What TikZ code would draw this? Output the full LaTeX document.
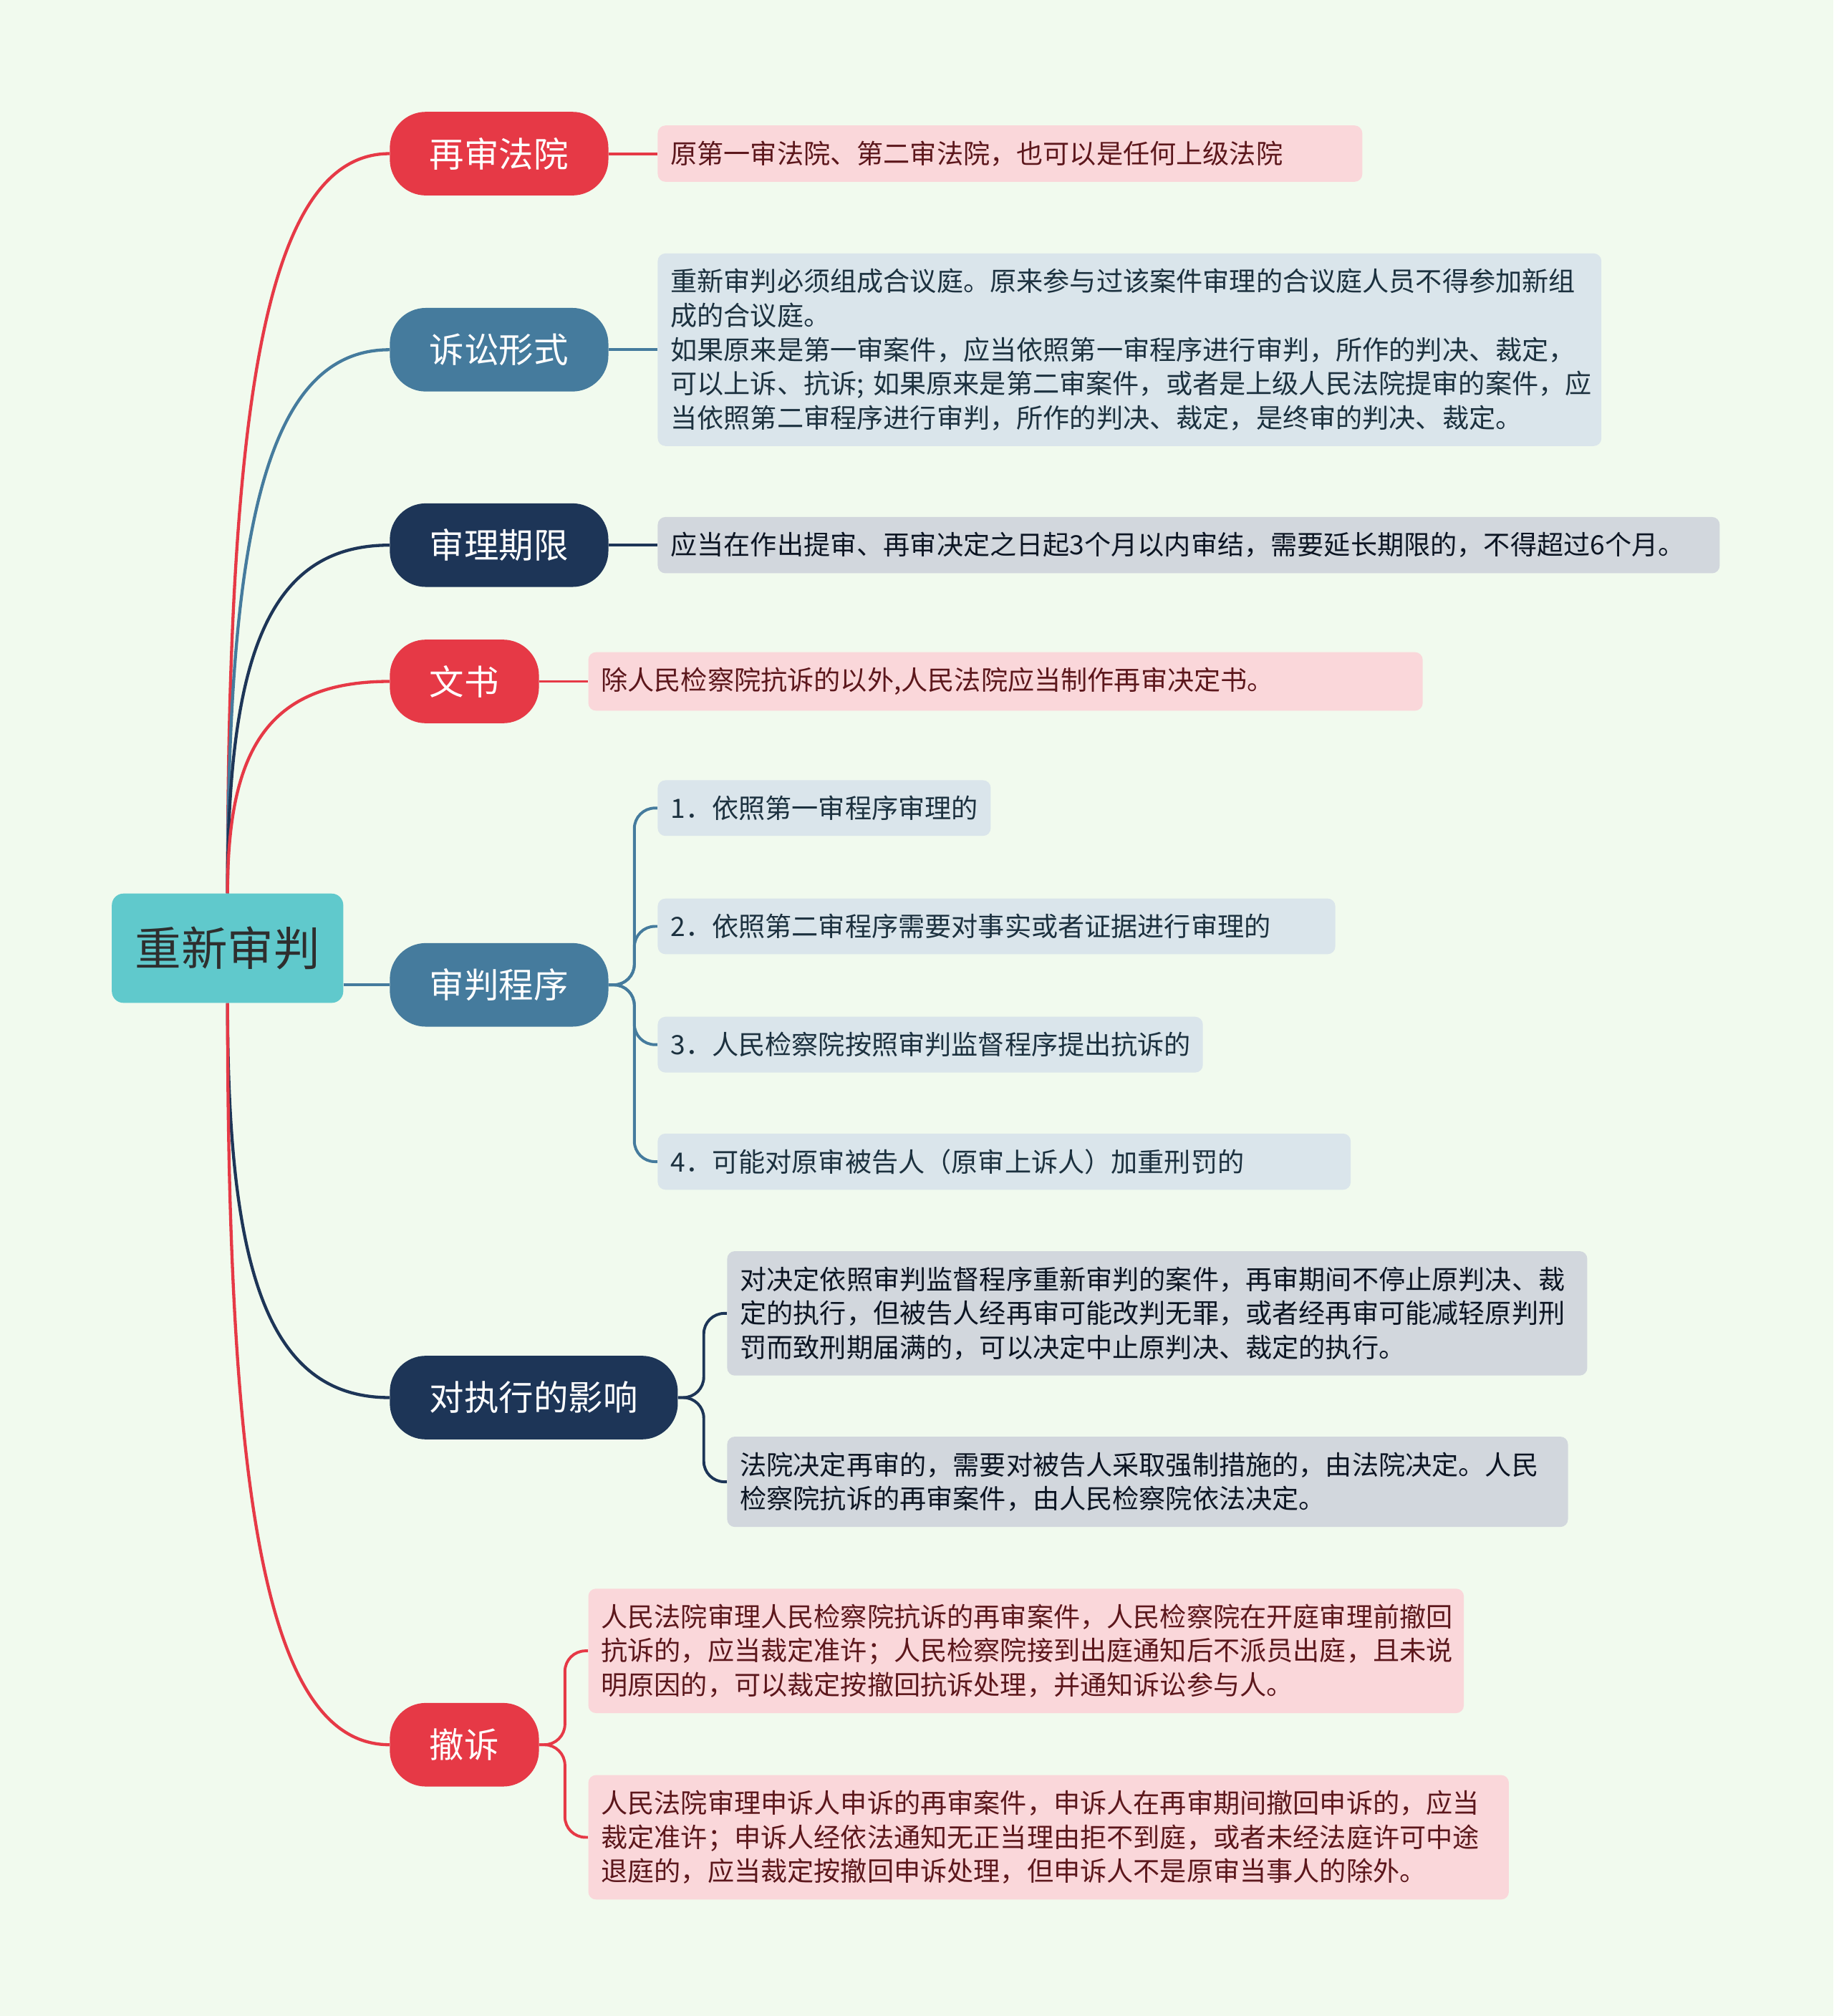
\documentclass[tikz,border=0pt]{standalone}
\usepackage{fontspec}
\setmainfont{Noto Sans CJK SC}
\usetikzlibrary{positioning,calc,backgrounds}
\definecolor{cred}{HTML}{E63946}
\definecolor{cblue}{HTML}{457B9D}
\definecolor{cnavy}{HTML}{1D3557}
\definecolor{cteal}{HTML}{60C9CC}
\definecolor{cpaper}{HTML}{F1FAEE}

\begin{document}
\begin{tikzpicture}[
    x=1pt, y=-1pt,
    hub/.style={fill=cteal, rounded corners=9pt, minimum height=85pt, inner xsep=18pt,
                text=black!82, font=\fontsize{36}{40}\selectfont},
    topic/.style={fill=#1, rounded corners=28pt, minimum height=65pt, inner xsep=31pt,
                  text=white, font=\fontsize{27}{30}\selectfont},
    note/.style={fill=#1!20, rounded corners=6pt, inner xsep=10pt, inner ysep=12pt,
                 align=left, text=#1!40!black, font=\fontsize{20.7}{26.5}\selectfont},
    link/.style={line width=2.4pt, color=#1,
                 to path={.. controls ($(\tikztostart)!0.68!(\tikztostart |- \tikztotarget)$)
                          and ($(\tikztostart |- \tikztotarget)!0.25!(\tikztotarget)$) .. (\tikztotarget)}},
    twig/.style={line width=2.2pt, color=#1, rounded corners=16pt}
]
\useasboundingbox (0,0) rectangle (1426,1568);

%% Central topic
\node[hub] (rejudge) at (177,737.5) {重新审判};

%% Main topics
\node[topic=cred, anchor=west] (court) at (303,119.5) {再审法院};
\node[topic=cblue, anchor=west] (form) at (303,272) {诉讼形式};
\node[topic=cnavy, anchor=west] (term) at (303,424) {审理期限};
\node[topic=cred, anchor=west] (doc) at (303,530) {文书};
\node[topic=cblue, anchor=west] (proc) at (303,766) {审判程序};
\node[topic=cnavy, anchor=west] (exec) at (303,1087) {对执行的影响};
\node[topic=cred, anchor=west] (withdraw) at (303,1357) {撤诉};

%% Notes
\node[note=cred, text width=528pt, right=38pt of court] (court_note) {原第一审法院、第二审法院，也可以是任何上级法院};
\node[note=cblue, text width=714pt, right=38pt of form] (form_note) {重新审判必须组成合议庭。原来参与过该案件审理的合议庭人员不得参加新组\\成的合议庭。\\如果原来是第一审案件，应当依照第一审程序进行审判，所作的判决、裁定，\\可以上诉、抗诉;~如果原来是第二审案件，或者是上级人民法院提审的案件，应\\当依照第二审程序进行审判，所作的判决、裁定，是终审的判决、裁定。};
\node[note=cnavy, text width=806pt, right=38pt of term] (term_note) {应当在作出提审、再审决定之日起3个月以内审结，需要延长期限的，不得超过6个月。};
\node[note=cred, text width=629pt, right=38pt of doc] (doc_note) {除人民检察院抗诉的以外,人民法院应当制作再审决定书。};

\node[note=cblue, text width=239pt, right=38pt of proc, yshift=137.5pt] (proc_1) {1．依照第一审程序审理的};
\node[note=cblue, text width=507pt, right=38pt of proc, yshift=45.5pt] (proc_2) {2．依照第二审程序需要对事实或者证据进行审理的};
\node[note=cblue, text width=404pt, right=38pt of proc, yshift=-46.5pt] (proc_3) {3．人民检察院按照审判监督程序提出抗诉的};
\node[note=cblue, text width=519pt, right=38pt of proc, yshift=-137.5pt] (proc_4) {4．可能对原审被告人（原审上诉人）加重刑罚的};

\node[note=cnavy, text width=649pt, right=38pt of exec, yshift=65.5pt] (exec_1) {对决定依照审判监督程序重新审判的案件，再审期间不停止原判决、裁\\定的执行，但被告人经再审可能改判无罪，或者经再审可能减轻原判刑\\罚而致刑期届满的，可以决定中止原判决、裁定的执行。};
\node[note=cnavy, text width=634pt, right=38pt of exec, yshift=-65.5pt] (exec_2) {法院决定再审的，需要对被告人采取强制措施的，由法院决定。人民\\检察院抗诉的再审案件，由人民检察院依法决定。};

\node[note=cred, text width=661pt, right=38pt of withdraw, yshift=73pt] (withdraw_1) {人民法院审理人民检察院抗诉的再审案件，人民检察院在开庭审理前撤回\\抗诉的，应当裁定准许；人民检察院接到出庭通知后不派员出庭，且未说\\明原因的，可以裁定按撤回抗诉处理，并通知诉讼参与人。};
\node[note=cred, text width=696pt, right=38pt of withdraw, yshift=-72pt] (withdraw_2) {人民法院审理申诉人申诉的再审案件，申诉人在再审期间撤回申诉的，应当\\裁定准许；申诉人经依法通知无正当理由拒不到庭，或者未经法庭许可中途\\退庭的，应当裁定按撤回申诉处理，但申诉人不是原审当事人的除外。};

%% Connectors
\begin{scope}[on background layer]
\fill[cpaper] (0,0) rectangle (1426,1568);
\draw[link=cred] (rejudge.north) to (court.west);
\draw[link=cblue] (rejudge.north) to (form.west);
\draw[link=cnavy] (rejudge.north) to (term.west);
\draw[link=cred] (rejudge.north) to (doc.west);
\draw[link=cblue] (rejudge.east |- proc.west) -- (proc.west);
\draw[link=cnavy] (rejudge.south) to (exec.west);
\draw[link=cred] (rejudge.south) to (withdraw.west);

\draw[twig=cred] (court.east) -- (court_note.west);
\draw[twig=cblue] (form.east) -- (form_note.west);
\draw[twig=cnavy] (term.east) -- (term_note.west);
\draw[twig=cred] (doc.east) -- (doc_note.west);
\foreach \n in {1,...,4}
  \draw[twig=cblue] (proc.east) -- ++(20,0) |- (proc_\n.west);
\foreach \n in {1,2} {
  \draw[twig=cnavy] (exec.east) -- ++(20,0) |- (exec_\n.west);
  \draw[twig=cred] (withdraw.east) -- ++(20,0) |- (withdraw_\n.west);
}
\end{scope}

\end{tikzpicture}
\end{document}
